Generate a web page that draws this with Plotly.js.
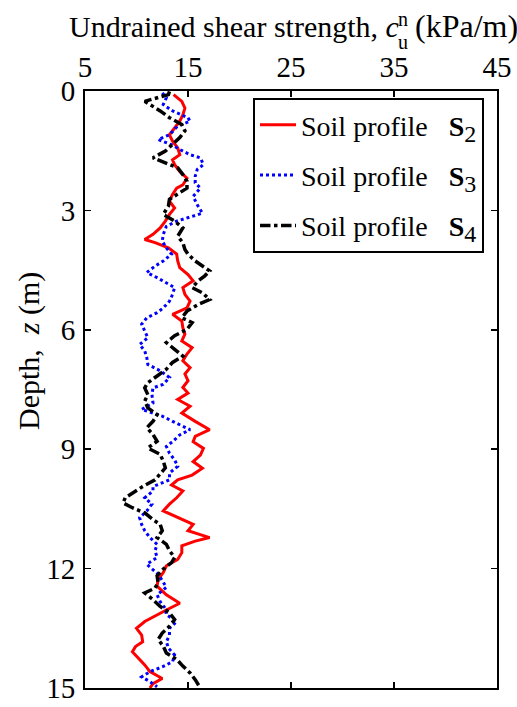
<!DOCTYPE html>
<html>
<head>
<meta charset="utf-8">
<script src="https://cdn.plot.ly/plotly-3.0.1.min.js"></script>
<style>html,body{margin:0;padding:0;background:#fff;}#chart{width:517px;height:707px;}</style>
</head>
<body>
<div id="chart"></div>
<script>
// Soil profile S2 (red, solid)
const depthS2 = [0.09,0.26,0.43,0.6,0.76,0.93,1.10,1.26,1.43,1.60,1.73,1.85,2.02,2.19,2.36,2.44,2.6,2.77,2.94,3.1,3.27,3.44,3.6,3.73,3.81,3.94,4.1,4.27,4.44,4.61,4.77,4.94,5.11,5.28,5.45,5.61,5.78,5.95,6.11,6.28,6.45,6.61,6.78,6.95,7.11,7.28,7.45,7.59,7.75,7.92,8.09,8.3,8.51,8.68,8.81,8.98,9.15,9.31,9.48,9.65,9.77,9.9,10.05,10.22,10.38,10.55,10.72,10.89,11.05,11.22,11.31,11.43,11.6,11.77,11.93,12.1,12.27,12.44,12.66,12.87,13.04,13.16,13.33,13.5,13.67,13.84,13.96,14.09,14.25,14.42,14.59,14.76,14.89,15.0];
const valueS2 = [13.6,14.4,14.7,14.5,14.2,13.7,13.2,13.5,14.0,14.2,13.5,13.7,14.2,14.9,14.5,13.9,13.5,13.2,13.7,13.2,12.8,12.3,11.6,10.8,11.8,13.1,13.9,14.0,14.2,15.0,15.5,14.5,14.7,15.2,14.9,13.5,14.4,14.5,14.7,14.4,15.4,14.9,14.5,15.2,14.7,15.0,14.5,15.0,14.0,15.2,14.4,15.7,17.1,15.7,15.5,16.5,16.2,15.5,16.4,15.4,14.0,13.4,14.5,13.9,13.2,12.6,14.0,15.5,15.0,17.1,15.7,14.4,14.4,14.0,12.9,12.6,12.1,12.0,12.9,14.2,12.9,12.0,10.8,10.0,10.5,10.6,9.9,9.6,10.2,10.8,11.3,12.5,11.6,11.3];

// Soil profile S3 (blue, dotted)
const depthS3 = [0.05,0.17,0.34,0.5,0.67,0.76,0.88,1.10,1.22,1.35,1.47,1.6,1.68,1.85,1.97,2.14,2.31,2.44,2.65,2.86,3.07,3.27,3.4,3.6,3.77,3.94,4.1,4.27,4.4,4.56,4.69,4.81,4.94,5.11,5.28,5.45,5.57,5.7,5.86,6.03,6.2,6.37,6.53,6.7,6.87,7.03,7.2,7.37,7.46,7.63,7.84,8.0,8.17,8.3,8.43,8.51,8.64,8.81,8.93,9.1,9.27,9.43,9.6,9.77,9.94,10.05,10.22,10.38,10.55,10.72,10.89,11.05,11.22,11.39,11.55,11.72,11.89,12.0,12.14,12.3,12.47,12.66,12.83,13.0,13.16,13.33,13.5,13.67,13.84,14.0,14.17,14.34,14.47,14.59,14.72,14.84,14.97];
const valueS3 = [12.5,12.9,12.6,13.5,15.0,15.2,14.0,13.2,12.1,13.4,14.2,15.2,16.2,16.5,15.9,15.7,15.7,16.2,15.5,15.9,16.4,13.9,12.9,12.6,12.5,12.9,13.4,12.6,11.8,11.0,12.0,12.8,13.7,13.5,13.2,12.6,12.0,11.0,10.5,10.8,11.1,10.3,10.8,11.0,11.1,12.3,13.2,12.6,11.6,11.5,11.6,10.5,12.5,13.5,14.5,15.2,14.2,13.5,12.9,13.2,13.7,14.0,13.2,13.2,11.6,11.6,10.8,11.5,11.0,10.3,10.5,10.8,11.3,12.0,11.8,12.0,11.0,11.5,12.1,12.5,12.9,12.0,12.3,12.8,12.9,13.9,13.2,13.2,12.9,13.1,13.7,13.5,12.5,11.3,10.5,11.3,12.0];

// Soil profile S4 (black, dash-dot)
const depthS4 = [0.01,0.09,0.26,0.38,0.5,0.67,0.84,1.0,1.17,1.34,1.51,1.68,1.8,1.93,2.1,2.27,2.44,2.56,2.72,2.89,3.1,3.27,3.44,3.65,3.81,3.98,4.1,4.27,4.4,4.52,4.65,4.77,4.94,5.07,5.24,5.36,5.53,5.7,5.82,5.99,6.15,6.32,6.49,6.66,6.82,6.99,7.16,7.33,7.46,7.63,7.79,7.96,8.13,8.3,8.46,8.63,8.8,8.97,9.13,9.3,9.47,9.63,9.77,9.94,10.1,10.22,10.35,10.47,10.6,10.77,10.89,11.05,11.22,11.39,11.55,11.72,11.85,12.01,12.18,12.35,12.49,12.61,12.78,12.95,13.11,13.28,13.45,13.62,13.78,13.95,14.12,14.28,14.45,14.62,14.79,14.92,15.0];
const valueS4 = [13.2,13.1,10.8,11.6,12.3,13.2,14.4,14.7,14.2,13.5,12.8,11.6,12.8,14.0,14.5,14.9,14.9,14.2,13.2,13.1,12.6,13.7,14.5,14.0,14.5,14.7,15.0,15.7,16.4,17.1,16.6,16.0,15.4,16.4,17.1,16.0,14.9,14.4,15.4,14.9,13.7,12.9,13.7,14.5,13.5,12.9,12.0,11.1,10.8,11.1,10.8,11.1,12.0,11.6,11.0,11.6,12.0,11.1,12.3,12.6,12.8,12.3,11.8,10.6,9.6,8.9,8.7,9.6,10.8,11.6,12.3,12.5,12.0,12.9,13.2,13.7,13.4,12.6,12.0,12.1,11.8,10.8,11.6,12.3,13.2,13.7,13.2,12.5,12.1,12.6,12.9,13.9,14.5,15.2,15.7,16.0,16.2];

const seriesNames = [
  'Soil profile&nbsp;&nbsp; <b>S</b><sub><span style="font-size:24px">2</span></sub>',
  'Soil profile&nbsp;&nbsp; <b>S</b><sub><span style="font-size:24px">3</span></sub>',
  'Soil profile&nbsp;&nbsp; <b>S</b><sub><span style="font-size:24px">4</span></sub>'
];
const xTicks = [5, 15, 25, 35, 45];
const yTicks = [0, 3, 6, 9, 12, 15];

const FONT = 'Liberation Serif';

const traces = [
  {x: valueS2, y: depthS2, name: seriesNames[0], legendgroup: 'g2', type: 'scatter', mode: 'lines',
   line: {color: '#ff0000', width: 3, dash: 'solid'}},
  {x: valueS3, y: depthS3, name: seriesNames[1], legendgroup: 'g3', type: 'scatter', mode: 'lines',
   line: {color: '#0000ff', width: 3, dash: 'dot'}},
  {x: valueS4, y: depthS4, name: seriesNames[2], legendgroup: 'g4', type: 'scatter', mode: 'lines',
   line: {color: '#000000', width: 3.5, dash: 'dashdot'}}
];

const pw = 412, ph = 597;
const layout = {
  width: 517, height: 707,
  margin: {l: 85, r: 20, t: 91, b: 19, pad: 0},
  paper_bgcolor: '#fff', plot_bgcolor: '#fff',
  font: {family: FONT, color: '#000', size: 28},
  showlegend: true,
  legend: {
    x: (253 - 85) / pw, y: (688 - 98) / ph, xanchor: 'left', yanchor: 'top',
    bgcolor: '#fff', bordercolor: '#000', borderwidth: 2,
    font: {family: FONT, size: 28, color: '#000'},
    tracegroupgap: 11, traceorder: 'grouped', itemwidth: 36
  },
  xaxis: {
    side: 'top', range: [5, 45], tickvals: xTicks, ticktext: xTicks.map(String),
    ticks: 'inside', ticklen: 6, tickwidth: 1.5, tickcolor: '#000',
    showline: true, linewidth: 2, linecolor: '#000', mirror: 'ticks',
    showgrid: false, zeroline: false, tickfont: {family: FONT, size: 29, color: '#000'},
    ticklabelstandoff: 0
  },
  yaxis: {
    range: [15, 0], tickvals: yTicks, ticktext: yTicks.map(String),
    ticks: 'inside', ticklen: 6, tickwidth: 1.5, tickcolor: '#000',
    showline: true, linewidth: 2, linecolor: '#000', mirror: 'ticks',
    showgrid: false, zeroline: false, tickfont: {family: FONT, size: 29, color: '#000'},
    ticklabelstandoff: 2
  },
  annotations: [
    {xref: 'paper', yref: 'paper', x: (67 - 85) / pw, y: (688 - 26) / ph, xanchor: 'left', yanchor: 'middle',
     text: 'Undrained shear strength, <i>c</i>', showarrow: false, font: {family: FONT, size: 30, color: '#000'}},
    {xref: 'paper', yref: 'paper', x: (396 - 85) / pw, y: (688 - 19) / ph, xanchor: 'left', yanchor: 'middle',
     text: 'n', height: 18, showarrow: false, font: {family: FONT, size: 20, color: '#000'}},
    {xref: 'paper', yref: 'paper', x: (396 - 85) / pw, y: (688 - 42) / ph, xanchor: 'left', yanchor: 'middle',
     text: 'u', height: 14, showarrow: false, font: {family: FONT, size: 20, color: '#000'}},
    {xref: 'paper', yref: 'paper', x: (413 - 85) / pw, y: (688 - 26) / ph, xanchor: 'left', yanchor: 'middle',
     text: '(kPa/m)', showarrow: false, font: {family: FONT, size: 32, color: '#000'}},
    {xref: 'paper', yref: 'paper', x: (29 - 85) / pw, y: (688 - 351) / ph, xanchor: 'center', yanchor: 'middle',
     text: 'Depth,  <i>z</i> (m)', textangle: -90, showarrow: false, font: {family: FONT, size: 30, color: '#000'}}
  ]
};

Plotly.newPlot('chart', traces, layout, {displayModeBar: false, staticPlot: true});
</script>
</body>
</html>
